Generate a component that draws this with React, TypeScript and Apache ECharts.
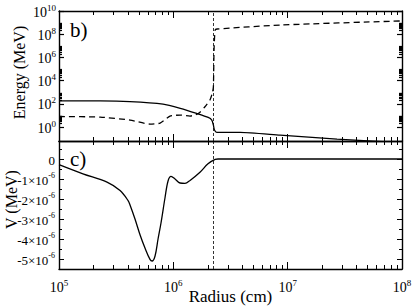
import React, { useEffect, useRef } from "react";
import * as echarts from "echarts";

const FONT = "Times New Roman, Liberation Serif, serif";

// Axis ranges
const X_MIN = 1e5;
const X_MAX = 1e8;
const E_MIN = 0.063;
const E_MAX = 1e10;
const V_MIN = -5.5e-6;
const V_MAX = 0.9e-6;

// Panel b): energies vs radius
const radiusSolid = [1e5, 2.29e5, 4.17e5, 8.13e5, 1.15e6, 1.6e6, 2.02e6, 2.17e6, 2.24e6, 2.29e6, 2.4e6, 3.84e6, 8.6e6, 2.7e7, 1e8];
const energySolid = [178, 178, 158, 95, 41, 15, 6.8, 4.0, 1.5, 0.55, 0.35, 0.35, 0.2, 0.093, 0.045];

const radiusDashed = [1e5, 2.29e5, 4.18e5, 6.25e5, 7.66e5, 9.35e5, 1.15e6, 1.4e6, 1.66e6, 1.89e6, 2.09e6, 2.19e6, 2.24e6, 2.27e6, 2.32e6, 2.41e6, 8.6e6, 1e8];
const energyDashed = [8.1, 7.2, 4.0, 1.8, 2.2, 8.9, 10.7, 8.9, 15, 56, 214, 810, 2800, 4.4e6, 2.3e8, 2.8e8, 6.2e8, 1.4e9];

// Panel c): potential vs radius
const radiusV = [1.0e5, 1.62e5, 2.63e5, 3.42e5, 4.02e5, 4.18e5, 4.62e5, 5.12e5, 5.65e5, 6.25e5, 6.52e5, 6.92e5, 7.35e5, 7.8e5, 8.45e5, 8.99e5, 9.55e5, 1.035e6, 1.145e6, 1.265e6, 1.4e6, 1.71e6, 2.01e6, 2.32e6, 2.46e6, 1e8];
const potentialV = [-0.28e-6, -0.74e-6, -1.16e-6, -1.58e-6, -2.08e-6, -2.3e-6, -3.0e-6, -3.8e-6, -4.45e-6, -5.02e-6, -5.1e-6, -4.85e-6, -4.0e-6, -3.2e-6, -1.95e-6, -1.1e-6, -0.87e-6, -1.0e-6, -1.2e-6, -1.22e-6, -1.07e-6, -0.66e-6, -0.24e-6, -0.02e-6, 0, 0];

const boundaryRadius = 2.22e6;

// Ticks
const xMajorTicks = [1e5, 1e6, 1e7, 1e8];
const xMinorTicks = [2e5, 3e5, 4e5, 5e5, 6e5, 7e5, 8e5, 9e5, 2e6, 3e6, 4e6, 5e6, 6e6, 7e6, 8e6, 9e6, 2e7, 3e7, 4e7, 5e7, 6e7, 7e7, 8e7, 9e7];
const energyMajorTicks = [1, 1e2, 1e4, 1e6, 1e8, 1e10];
const energyMinorTicks = [2, 3, 4, 5, 6, 7, 8, 9, 2e2, 3e2, 4e2, 5e2, 6e2, 7e2, 8e2, 9e2, 2e4, 3e4, 4e4, 5e4, 6e4, 7e4, 8e4, 9e4, 2e6, 3e6, 4e6, 5e6, 6e6, 7e6, 8e6, 9e6, 2e8, 3e8, 4e8, 5e8, 6e8, 7e8, 8e8, 9e8];
const vMajorTicks = [-5e-6, -4e-6, -3e-6, -2e-6, -1e-6, 0];
const vMinorTicks = [-4.5e-6, -3.5e-6, -2.5e-6, -1.5e-6, -0.5e-6, 0.5e-6];

const supRich = (base: number, sup: number) => ({
  b: { fontFamily: FONT, fontSize: base, color: "#000", verticalAlign: "bottom", lineHeight: base + 2 },
  s: { fontFamily: FONT, fontSize: sup, color: "#000", verticalAlign: "bottom", lineHeight: base + 2, padding: [0, 0, Math.round(base * 0.5), 0] },
});

const expOf = (v: number) => Math.round(Math.log10(Math.abs(v)));

function makeX(grid: number, pos: string, ticks: number[], len: number, line: boolean, labels: boolean, name?: string) {
  return {
    type: "log",
    logBase: 10,
    gridIndex: grid,
    position: pos,
    min: X_MIN,
    max: X_MAX,
    name: name || "",
    nameLocation: "middle",
    nameGap: 19,
    nameMoveOverlap: false,
    nameTextStyle: { fontFamily: FONT, fontSize: 17, color: "#000", verticalAlign: "top" },
    axisLine: { show: line, onZero: false, lineStyle: { color: "#000", width: 1.4 } },
    axisTick: { show: true, inside: true, length: len, customValues: ticks, lineStyle: { color: "#000", width: 1 } },
    axisLabel: labels
      ? {
          show: true,
          customValues: ticks,
          margin: 9,
          formatter: (v: number) => `{b|10}{s|${expOf(v)}}`,
          rich: supRich(14, 9),
        }
      : { show: false },
    splitLine: { show: false },
  };
}

function makeYLog(pos: string, ticks: number[], len: number, line: boolean, labels: boolean, name?: string) {
  return {
    type: "log",
    logBase: 10,
    gridIndex: 0,
    position: pos,
    min: E_MIN,
    max: E_MAX,
    name: name || "",
    nameLocation: "middle",
    nameGap: 32,
    nameMoveOverlap: false,
    nameTextStyle: { fontFamily: FONT, fontSize: 16, color: "#000", padding: [0, 0, 0, 7] },
    axisLine: { show: line, onZero: false, lineStyle: { color: "#000", width: 1.4 } },
    axisTick: { show: true, inside: true, length: len, customValues: ticks, lineStyle: { color: "#000", width: 1.2 } },
    axisLabel: labels
      ? {
          show: true,
          customValues: ticks,
          margin: 3,
          formatter: (v: number) => `{b|10}{s|${expOf(v)}}`,
          rich: supRich(14, 9),
        }
      : { show: false },
    splitLine: { show: false },
  };
}

function makeYV(pos: string, ticks: number[], len: number, line: boolean, labels: boolean, name?: string) {
  return {
    type: "value",
    gridIndex: 1,
    position: pos,
    min: V_MIN,
    max: V_MAX,
    name: name || "",
    nameLocation: "middle",
    nameGap: 40,
    nameMoveOverlap: false,
    nameTextStyle: { fontFamily: FONT, fontSize: 16, color: "#000", padding: [0, 0, 0, 11] },
    axisLine: { show: line, onZero: false, lineStyle: { color: "#000", width: 1.4 } },
    axisTick: { show: true, inside: true, length: len, customValues: ticks, lineStyle: { color: "#000", width: 1 } },
    axisLabel: labels
      ? {
          show: true,
          customValues: ticks,
          margin: 4,
          formatter: (v: number) => {
            const n = Math.round(v * 1e6);
            if (n === 0) return "{b|0}";
            return `{b|${n}×10}{s|-6}`;
          },
          rich: supRich(13, 8),
        }
      : { show: false },
    splitLine: { show: false },
  };
}

const vLine = {
  silent: true,
  symbol: ["none", "none"],
  label: { show: false },
  lineStyle: { color: "#000", type: [3, 2], width: 0.8 },
  data: [{ xAxis: boundaryRadius }],
};

export default function App() {
  const ref = useRef<HTMLDivElement>(null);
  useEffect(() => {
    if (!ref.current) return;
    const chart = echarts.init(ref.current, undefined, { renderer: "svg" });
    const solid = radiusSolid.map((r, i) => [r, energySolid[i]]);
    const dashed = radiusDashed.map((r, i) => [r, energyDashed[i]]);
    const pot = radiusV.map((r, i) => [r, potentialV[i]]);
    chart.setOption({
      animation: false,
      backgroundColor: "#fff",
      textStyle: { fontFamily: FONT, color: "#000" },
      grid: [
        { left: 59, right: 13, top: 11, height: 130, containLabel: false, outerBoundsMode: "none" },
        { left: 59, right: 13, top: 141, height: 128, containLabel: false, outerBoundsMode: "none" },
      ],
      xAxis: [
        makeX(0, "bottom", xMajorTicks, 7, true, false),
        makeX(0, "bottom", xMinorTicks, 4, false, false),
        makeX(0, "top", xMajorTicks, 7, true, false),
        makeX(0, "top", xMinorTicks, 4, false, false),
        makeX(1, "bottom", xMajorTicks, 7, true, true, "Radius (cm)"),
        makeX(1, "bottom", xMinorTicks, 4, false, false),
        makeX(1, "top", xMajorTicks, 7, true, false),
        makeX(1, "top", xMinorTicks, 4, false, false),
      ],
      yAxis: [
        makeYLog("left", energyMajorTicks, 5, true, true, "Energy (MeV)"),
        makeYLog("left", energyMinorTicks, 3, false, false),
        makeYLog("right", energyMajorTicks, 5, true, false),
        makeYLog("right", energyMinorTicks, 3, false, false),
        makeYV("left", vMajorTicks, 5, true, true, "V (MeV)"),
        makeYV("left", vMinorTicks, 3, false, false),
        makeYV("right", vMajorTicks, 5, true, false),
        makeYV("right", vMinorTicks, 3, false, false),
      ],
      series: [
        {
          type: "line",
          name: "solid",
          xAxisIndex: 0,
          yAxisIndex: 0,
          data: solid,
          showSymbol: false,
          smooth: 0.2,
          lineStyle: { color: "#000", width: 1.3 },
          markLine: vLine,
        },
        {
          type: "line",
          name: "dashed",
          xAxisIndex: 0,
          yAxisIndex: 0,
          data: dashed,
          showSymbol: false,
          smooth: 0.2,
          lineStyle: { color: "#000", width: 1.3, type: [6, 4] },
        },
        {
          type: "line",
          name: "V",
          xAxisIndex: 4,
          yAxisIndex: 4,
          data: pot,
          showSymbol: false,
          smooth: 0.35,
          lineStyle: { color: "#000", width: 1.3 },
          markLine: vLine,
        },
      ],
      graphic: [
        { type: "text", left: 70, top: 19, style: { text: "b)", fontFamily: FONT, fontSize: 21, fill: "#000" } },
        { type: "text", left: 70, top: 148, style: { text: "c)", fontFamily: FONT, fontSize: 21, fill: "#000" } },
      ],
    });
    return () => chart.dispose();
  }, []);
  return <div ref={ref} style={{ position: "fixed", left: 0, top: 0, width: 415, height: 308 }} />;
}
